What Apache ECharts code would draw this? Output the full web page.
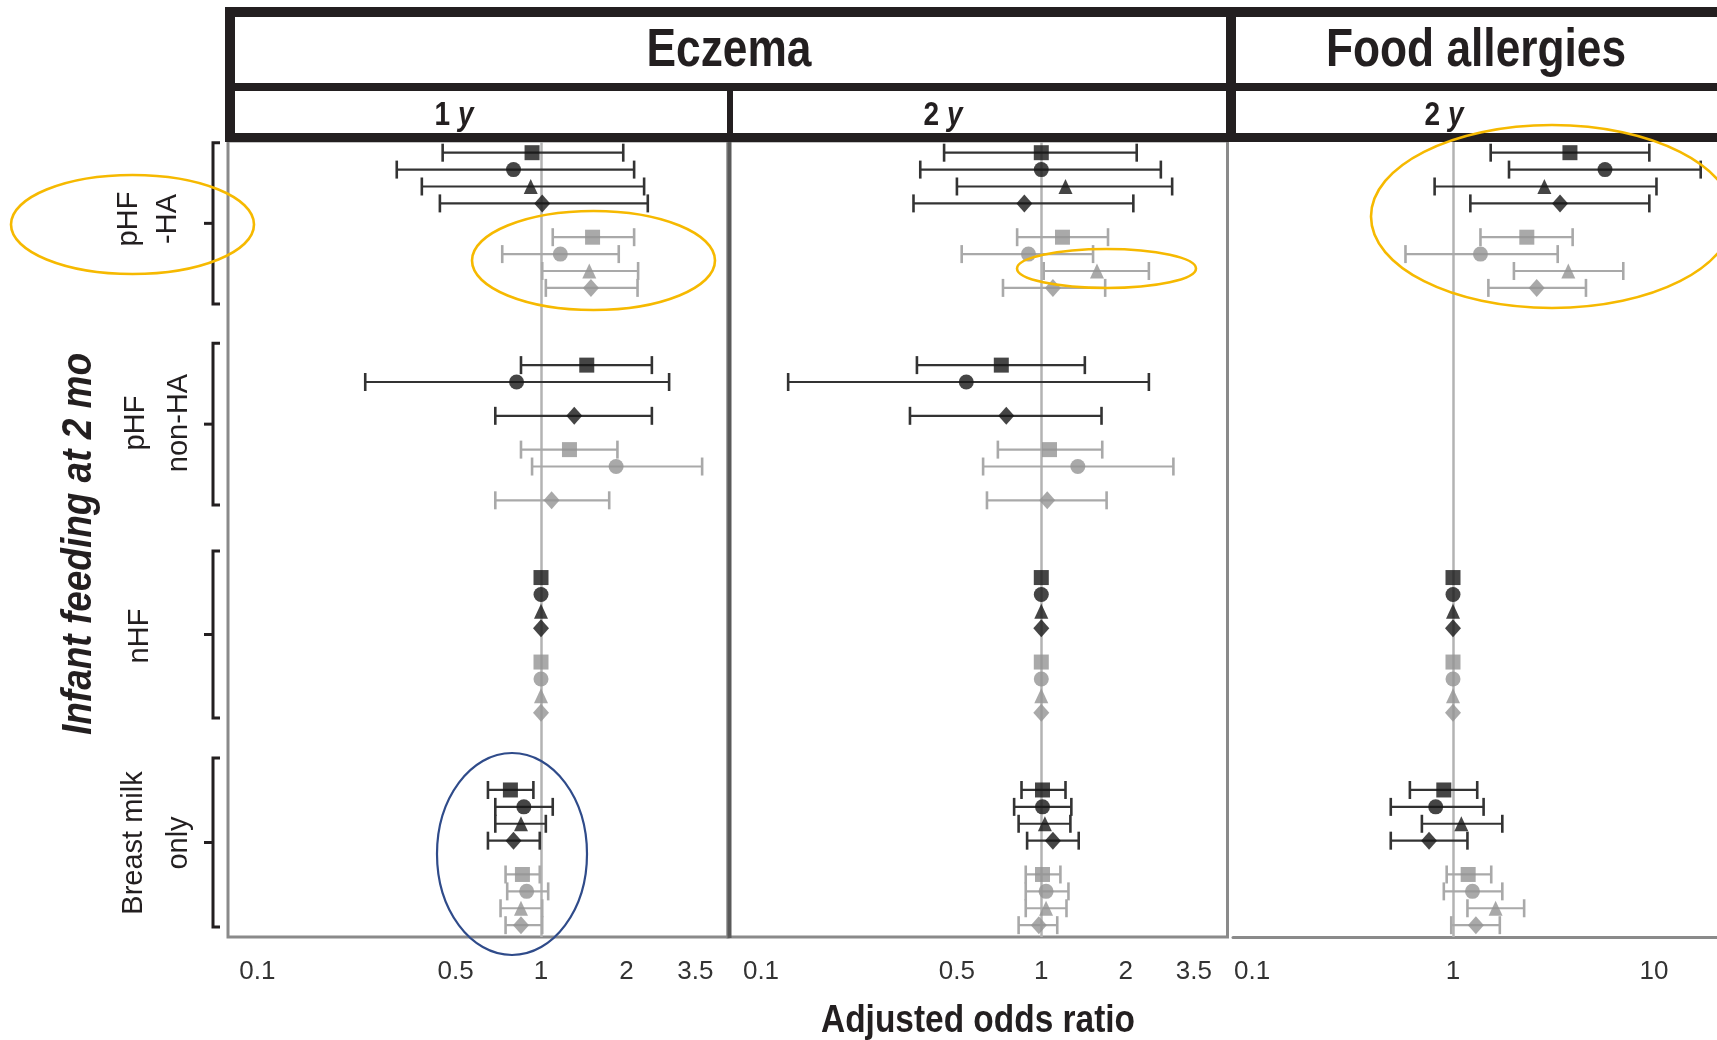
<!DOCTYPE html>
<html><head><meta charset="utf-8">
<script src="https://cdn.jsdelivr.net/npm/echarts/dist/echarts.min.js"></script>
<style>html,body{margin:0;padding:0;background:#fff}#c{width:1717px;height:1040px}</style>
</head><body><div id="c"></div>
<script>
// ---------------- data ----------------
const groups = ['pHF-HA', 'pHF non-HA', 'nHF', 'Breast milk only'];
const rowShapes = ['rect', 'circle', 'triangle', 'diamond', 'rect', 'circle', 'triangle', 'diamond'];
const rowShade = [0, 0, 0, 0, 1, 1, 1, 1]; // 0 = black, 1 = grey
const outcomeTitles = ['Eczema', 'Food allergies'];
const panelAges = ['1', '2', '2'];
const ticksEczema = [0.1, 0.5, 1, 2, 3.5];
const tickLabelsEczema = ['0.1', '0.5', '1', '2', '3.5'];
const ticksFood = [0.1, 1, 10];
const tickLabelsFood = ['0.1', '1', '10'];

// Eczema, 1 y  (rows per group: black sq, circ, tri, diam, grey sq, circ, tri, diam)
const ecz1OR = [0.93, 0.80, 0.92, 1.01, 1.52, 1.17, 1.48, 1.50,
                1.45, 0.82, null, 1.31, 1.26, 1.84, null, 1.09,
                1, 1, 1, 1, 1, 1, 1, 1,
                0.78, 0.87, 0.85, 0.80, 0.86, 0.89, 0.85, 0.85];
const ecz1Lo = [0.45, 0.31, 0.38, 0.44, 1.10, 0.73, 1.01, 1.04,
                0.85, 0.24, null, 0.69, 0.85, 0.93, null, 0.69,
                null, null, null, null, null, null, null, null,
                0.65, 0.69, 0.69, 0.65, 0.75, 0.76, 0.72, 0.75];
const ecz1Hi = [1.95, 2.13, 2.31, 2.38, 2.13, 1.88, 2.20, 2.19,
                2.46, 2.83, null, 2.46, 1.86, 3.70, null, 1.74,
                null, null, null, null, null, null, null, null,
                0.94, 1.10, 1.04, 0.99, 0.99, 1.06, 1.01, 1.01];

// Eczema, 2 y
const ecz2OR = [1.00, 1.00, 1.22, 0.87, 1.19, 0.90, 1.58, 1.10,
                0.72, 0.54, null, 0.75, 1.07, 1.35, null, 1.05,
                1, 1, 1, 1, 1, 1, 1, 1,
                1.01, 1.01, 1.03, 1.10, 1.01, 1.04, 1.04, 0.98];
const ecz2Lo = [0.45, 0.37, 0.50, 0.35, 0.82, 0.52, 1.02, 0.73,
                0.36, 0.125, null, 0.34, 0.70, 0.62, null, 0.64,
                null, null, null, null, null, null, null, null,
                0.85, 0.80, 0.83, 0.89, 0.88, 0.88, 0.88, 0.83];
const ecz2Hi = [2.19, 2.67, 2.93, 2.13, 1.73, 1.53, 2.42, 1.69,
                1.43, 2.42, null, 1.64, 1.65, 2.96, null, 1.71,
                null, null, null, null, null, null, null, null,
                1.22, 1.28, 1.27, 1.36, 1.17, 1.25, 1.23, 1.14];

// Food allergies, 2 y
const foodOR = [3.82, 5.71, 2.85, 3.41, 2.33, 1.37, 3.75, 2.61,
                null, null, null, null, null, null, null, null,
                1, 1, 1, 1, 1, 1, 1, 1,
                0.90, 0.82, 1.10, 0.76, 1.19, 1.25, 1.63, 1.30];
const foodLo = [1.54, 1.90, 0.81, 1.22, 1.37, 0.58, 2.01, 1.50,
                null, null, null, null, null, null, null, null,
                null, null, null, null, null, null, null, null,
                0.61, 0.49, 0.70, 0.49, 0.93, 0.90, 1.18, 0.98];
const foodHi = [9.49, 17.1, 10.3, 9.49, 3.94, 3.32, 7.04, 4.59,
                null, null, null, null, null, null, null, null,
                null, null, null, null, null, null, null, null,
                1.32, 1.42, 1.76, 1.18, 1.55, 1.76, 2.26, 1.71];

// ---------------- layout / style ----------------
const FONT = '"Liberation Sans", Arial, sans-serif';
const INK = '#231f20';
const G = 12.57;                 // row slots between group starts
const rowSlot = [0, 1, 2, 3, 5, 6, 7, 8];
const markCol = ['#161616', '#939393'];
const barCol = ['#333333', '#a9a9a9'];
const symSize = { rect: [15, 15], circle: 15, triangle: [14, 15], diamond: [16, 18] };
const L = Math.log10;

const panels = [
  { or: ecz1OR, lo: ecz1Lo, hi: ecz1Hi, ticks: ticksEczema, labels: tickLabelsEczema,
    left: 228, width: 500, min: -1.1037, max: 0.6594 },
  { or: ecz2OR, lo: ecz2Lo, hi: ecz2Hi, ticks: ticksEczema, labels: tickLabelsEczema,
    left: 728, width: 499.5, min: -1.1177, max: 0.6643 },
  { or: foodOR, lo: foodLo, hi: foodHi, ticks: ticksFood, labels: tickLabelsFood,
    left: 1233, width: 484, min: -1.0951, max: 1.3141 }
];
const TOP = 141, BOTTOM = 937;
const yMin = -0.692, yMax = 46.41;

function renderErr(params, api) {
  const y = api.value(2);
  const a = api.coord([api.value(0), y]);
  const b = api.coord([api.value(1), y]);
  const col = barCol[api.value(3)];
  const h = 9;
  return { type: 'group', children: [
    { type: 'line', shape: { x1: a[0], y1: a[1], x2: b[0], y2: b[1] }, style: { stroke: col, lineWidth: 2.2 } },
    { type: 'line', shape: { x1: a[0], y1: a[1] - h, x2: a[0], y2: a[1] + h }, style: { stroke: col, lineWidth: 2.6 } },
    { type: 'line', shape: { x1: b[0], y1: b[1] - h, x2: b[0], y2: b[1] + h }, style: { stroke: col, lineWidth: 2.6 } }
  ]};
}

const grid = [], xAxis = [], yAxis = [], series = [];
panels.forEach((p, i) => {
  grid.push({ left: p.left, top: TOP, width: p.width, height: BOTTOM - TOP,
    show: i < 2, borderColor: '#8a8a8a', borderWidth: 3, containLabel: false });
  const tv = p.ticks.map(L);
  xAxis.push({ type: 'value', gridIndex: i, min: p.min, max: p.max,
    axisLine: { show: i === 2, onZero: false, lineStyle: { color: '#8a8a8a', width: 3 } },
    axisTick: { show: false }, splitLine: { show: false },
    axisLabel: { customValues: tv, fontSize: 26, color: '#333', fontFamily: FONT, margin: 22,
      formatter: v => { const k = tv.findIndex(t => Math.abs(t - v) < 1e-6); return k >= 0 ? p.labels[k] : ''; } } });
  yAxis.push({ type: 'value', gridIndex: i, inverse: true, min: yMin, max: yMax, show: false });

  const err = [], pts = [];
  for (let g = 0; g < groups.length; g++) {
    for (let r = 0; r < 8; r++) {
      const k = g * 8 + r;
      const v = p.or[k];
      if (v == null) continue;
      const y = g * G + rowSlot[r];
      pts.push({ value: [L(v), y], symbol: rowShapes[r], symbolSize: symSize[rowShapes[r]],
        itemStyle: { color: markCol[rowShade[r]] } });
      if (p.lo[k] != null) err.push([L(p.lo[k]), L(p.hi[k]), y, rowShade[r]]);
    }
  }
  series.push({ type: 'custom', xAxisIndex: i, yAxisIndex: i, renderItem: renderErr, data: err,
    encode: { x: [0, 1], y: 2 }, z: 3, silent: true,
    markLine: { silent: true, z: 1, symbol: 'none', label: { show: false },
      lineStyle: { color: '#b3b3b3', width: 2.5, type: 'solid' }, data: [{ xAxis: 0 }] } });
  series.push({ type: 'scatter', xAxisIndex: i, yAxisIndex: i, data: pts, z: 10, silent: true });
});

// ---------------- decorations ----------------
const graphic = [];
const R = (x, y, w, h, c) => graphic.push({ type: 'rect', shape: { x, y, width: w, height: h }, style: { fill: c || INK }, z: 50 });
// header box
R(225, 7, 1500, 10); R(225, 83, 1500, 8); R(225, 133, 1500, 9);
R(225, 7, 10, 135); R(1226, 7, 10, 135); R(727, 83, 6, 58);
// darker shared border between panel 1 and 2
graphic.push({ type: 'line', shape: { x1: 729.5, y1: 141, x2: 729.5, y2: 938 }, style: { stroke: '#5a5a5a', lineWidth: 4 }, z: 40 });

const T = (text, x, y, opt) => graphic.push(Object.assign({ type: 'text', x, y, z: 60,
  style: Object.assign({ text, fill: INK, fontFamily: FONT, textAlign: 'center', textVerticalAlign: 'middle' }, opt.style) }, opt.el || {}));
T(outcomeTitles[0], 729, 51, { style: { fontSize: 54, fontWeight: 'bold' }, el: { scaleX: 0.82 } });
T(outcomeTitles[1], 1476, 51, { style: { fontSize: 54, fontWeight: 'bold' }, el: { scaleX: 0.82 } });
const ageX = [454, 943, 1444];
panelAges.forEach((a, i) => graphic.push({ type: 'text', x: ageX[i], y: 116, z: 60, scaleX: 0.85,
  style: { text: '{n|' + a + ' }{i|y}', textAlign: 'center', textVerticalAlign: 'middle',
    rich: { n: { fontSize: 33, fontWeight: 'bold', fontFamily: FONT, fill: INK },
            i: { fontSize: 33, fontWeight: 'bold', fontStyle: 'italic', fontFamily: FONT, fill: INK } } } }));

// axis titles
T('Adjusted odds ratio', 978, 1022, { style: { fontSize: 38, fontWeight: 'bold' }, el: { scaleX: 0.88 } });
T('Infant feeding at 2 mo', 79, 544, { style: { fontSize: 42, fontWeight: 'bold', fontStyle: 'italic' }, el: { rotation: Math.PI / 2, scaleX: 0.88 } });

// group labels
const gl = [
  [['pHF', 129], ['-HA', 168], 219],
  [['pHF', 136], ['non-HA', 178.5], 423],
  [['nHF', 140], null, 636],
  [['Breast milk', 134], ['only', 178.5], 843]
];
gl.forEach(([a, b, y]) => {
  T(a[0], a[1], y, { style: { fontSize: 29 }, el: { rotation: Math.PI / 2 } });
  if (b) T(b[0], b[1], y, { style: { fontSize: 29 }, el: { rotation: Math.PI / 2 } });
});
// brackets
const br = [[142.7, 304], [343.3, 505], [551, 718], [758, 927]];
br.forEach(([t, b]) => {
  const m = (t + b) / 2;
  graphic.push({ type: 'polyline', z: 60, shape: { points: [[220, t], [213, t], [213, b], [220, b]] }, style: { stroke: INK, lineWidth: 3, fill: null } });
  graphic.push({ type: 'line', z: 60, shape: { x1: 213, y1: m, x2: 204, y2: m }, style: { stroke: INK, lineWidth: 3 } });
});

// highlight ellipses
const E = (cx, cy, rx, ry, c, w) => graphic.push({ type: 'ellipse', z: 100, shape: { cx, cy, rx, ry }, style: { fill: null, stroke: c, lineWidth: w } });
E(132.5, 224.5, 121.5, 49.5, '#f6b900', 2.6);
E(593.5, 260.5, 121.5, 49.5, '#f6b900', 2.6);
E(1106.5, 268.5, 89.5, 19.5, '#f6b900', 2.6);
E(1552, 216.5, 181, 91.5, '#f6b900', 2.6);
E(512, 854, 75, 101, '#2f4b8a', 2.2);

const chart = echarts.init(document.getElementById('c'));
chart.setOption({ animation: false, backgroundColor: '#fff', grid, xAxis, yAxis, series, graphic });
</script></body></html>
